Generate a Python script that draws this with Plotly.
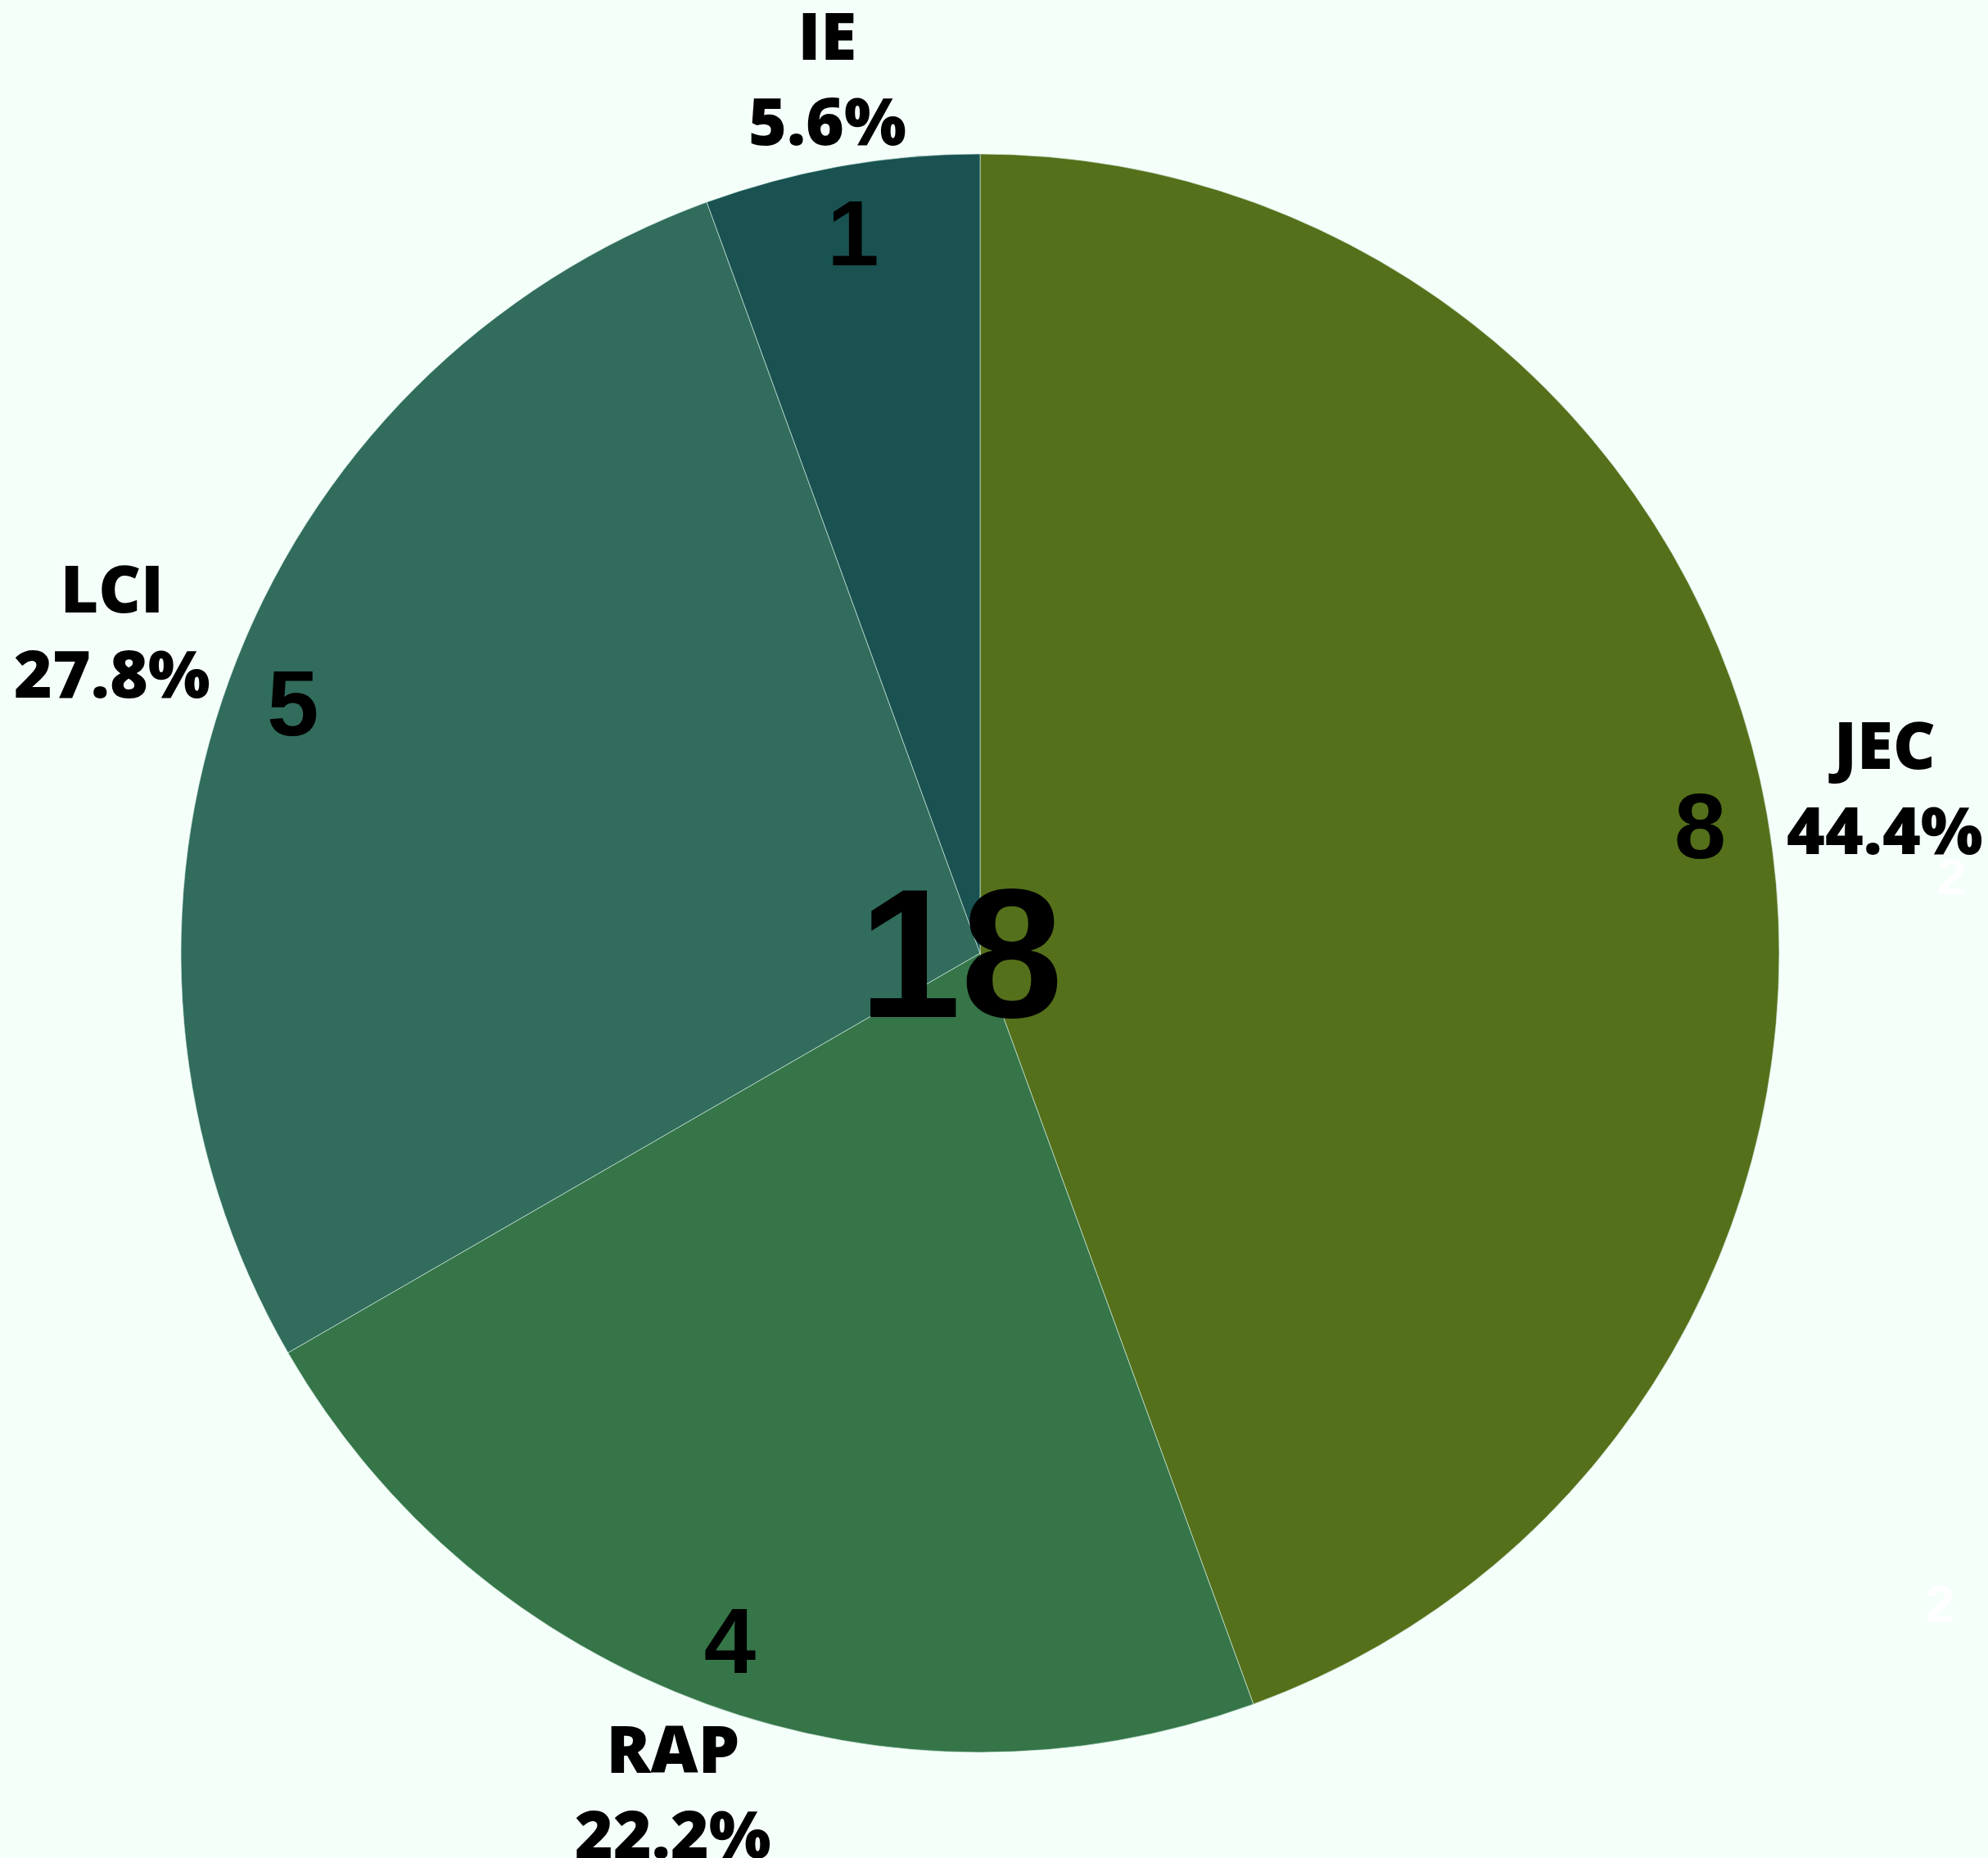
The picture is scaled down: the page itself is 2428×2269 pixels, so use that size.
import math
import plotly.graph_objects as go

labels = ["JEC", "RAP", "LCI", "IE"]
values = [8, 4, 5, 1]
colors = ["#55701a", "#357548", "#316c5c", "#195251"]
extra_labels = ["2", "2"]

total = sum(values)
DIGIT_FONT = "Liberation Sans, Arial, Helvetica, sans-serif"
LABEL_SIZE = 80

W, H = 2428, 2269
M = dict(l=100, r=134, t=188, b=129)
plot_w = W - M["l"] - M["r"]
plot_h = H - M["t"] - M["b"]
radius_px = min(plot_w, plot_h) / 2

fig = go.Figure()

# main pie
fig.add_trace(go.Pie(
    labels=labels, values=values, sort=False, direction="clockwise", rotation=0,
    marker=dict(colors=colors, line=dict(color="rgba(220,245,235,0.6)", width=1)),
    textinfo="none", automargin=False,
    showlegend=False, hoverinfo="label+value+percent",
))

# transparent ring carrying the value labels near the rim
fig.add_trace(go.Pie(
    labels=labels, values=values, sort=False, direction="clockwise", rotation=0,
    hole=0.83, automargin=False,
    marker=dict(colors=["rgba(0,0,0,0)"] * len(values), line=dict(width=0)),
    texttemplate="%{value}",
    textposition="inside",
    insidetextorientation="horizontal",
    insidetextfont=dict(family=DIGIT_FONT, size=114, color="black", weight="bold"),
    showlegend=False, hoverinfo="skip",
))

# outside labels (name + percent) placed just outside the rim at each slice's mid-angle
cum = 0
for lab, val in zip(labels, values):
    frac = val / total
    theta = 2 * math.pi * (cum + frac / 2)
    cum += frac
    pct = f"{frac * 100:.1f}%"
    half_w = 0.3 * LABEL_SIZE * max(len(lab), len(pct))
    half_h = 0.86 * LABEL_SIZE
    dist = radius_px + 16 + abs(math.sin(theta)) * half_w + abs(math.cos(theta)) * half_h
    x = 0.5 + dist * math.sin(theta) / plot_w
    y = 0.5 + dist * math.cos(theta) / plot_h
    fig.add_annotation(
        text=f"{lab}<br>{pct}", x=x, y=y, xref="paper", yref="paper",
        showarrow=False, xanchor="center", yanchor="middle", yshift=10,
        font=dict(family="Open Sans", size=LABEL_SIZE, color="black", weight=800),
    )

fig.add_annotation(text=str(total), x=0.5, y=0.5, xref="paper", yref="paper",
                   showarrow=False, xshift=-24, xanchor="center", yanchor="middle",
                   font=dict(family=DIGIT_FONT, size=224, color="black", weight="bold"))

fig.add_annotation(text=extra_labels[0], x=1.0406, y=0.548, xref="paper", yref="paper",
                   showarrow=False, xanchor="center", yanchor="middle",
                   font=dict(family=DIGIT_FONT, size=63, color="white", weight="bold"))
fig.add_annotation(text=extra_labels[1], x=1.0346, y=0.0932, xref="paper", yref="paper",
                   showarrow=False, xanchor="center", yanchor="middle",
                   font=dict(family=DIGIT_FONT, size=63, color="white", weight="bold"))

fig.update_layout(
    width=W, height=H,
    margin=M,
    paper_bgcolor="#f5fffa", plot_bgcolor="#f5fffa",
)

fig.write_html(
    "out.html",
    config={"displayModeBar": False},
    post_script="document.body.style.margin='0';document.body.style.background='#f5fffa';document.body.style.overflow='hidden';",
)
